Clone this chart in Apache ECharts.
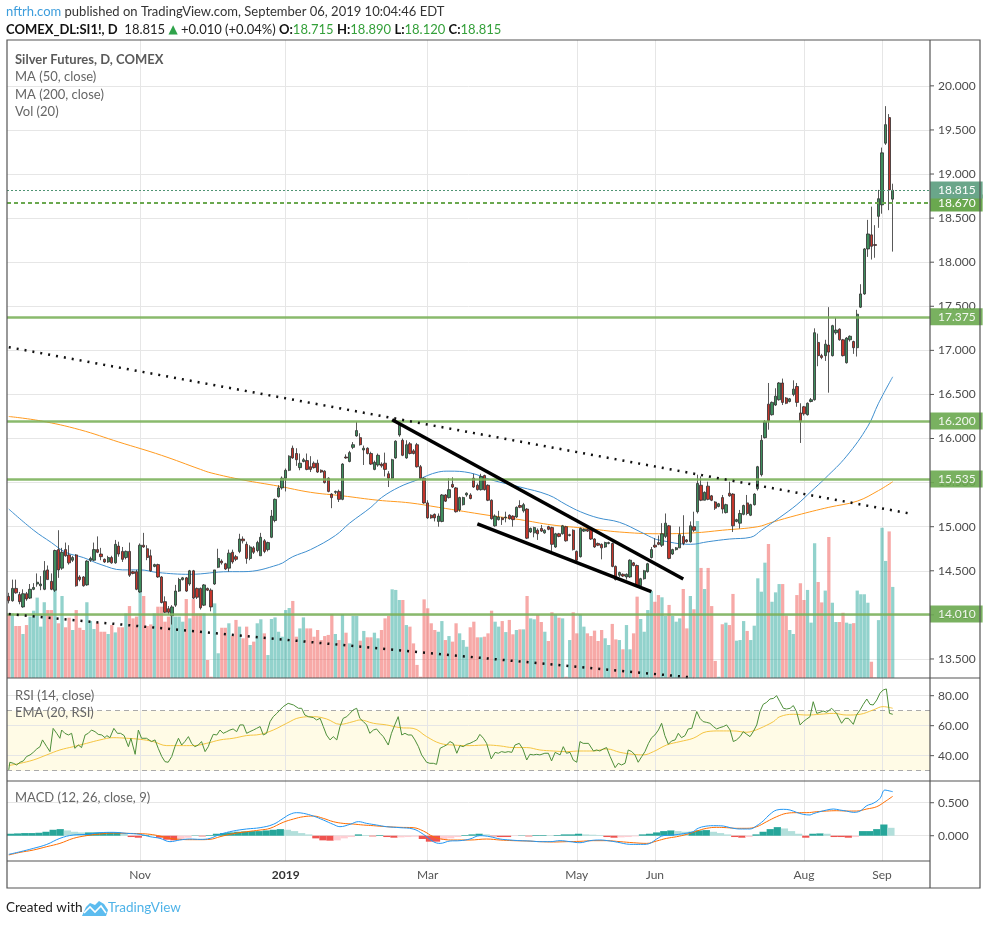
<!DOCTYPE html>
<html>
<head>
<meta charset="utf-8">
<script src="https://cdn.jsdelivr.net/npm/echarts/dist/echarts.min.js"></script>
<style>
  html, body { margin: 0; padding: 0; background: #fff; }
  #chart { width: 986px; height: 926px; }
</style>
</head>
<body>
<div id="chart"></div>
<script>
// Silver futures daily, Sep 2018 - Sep 6 2019
const FONT = 'Lato, "Noto Sans", sans-serif';
const SLOTS = 260; // 250 daily bars + empty room on the right

// candles: [open, close, low, high]
const candlesSepDec = [
  [14.21,14.16,14.13,14.25],[14.16,14.30,14.15,14.40],[14.30,14.25,14.24,14.40],[14.23,14.15,14.12,14.26],
  [14.09,14.24,14.08,14.29],[14.24,14.18,14.16,14.26],[14.19,14.29,14.18,14.35],[14.29,14.31,14.28,14.36],
  [14.35,14.37,14.32,14.47],[14.33,14.35,14.28,14.44],[14.29,14.50,14.28,14.61],[14.51,14.40,14.40,14.56],
  [14.38,14.29,14.28,14.47],[14.28,14.73,14.26,14.74],[14.74,14.51,14.42,14.96],[14.53,14.71,14.51,14.76],
  [14.74,14.67,14.66,14.82],[14.68,14.59,14.57,14.79],[14.62,14.65,14.60,14.67],[14.68,14.33,14.32,14.69],
  [14.43,14.40,14.38,14.45],[14.43,14.33,14.32,14.44],[14.34,14.61,14.33,14.62],[14.62,14.64,14.60,14.66],
  [14.62,14.74,14.61,14.82],[14.74,14.71,14.70,14.89],[14.69,14.66,14.62,14.76],[14.63,14.60,14.59,14.64],
  [14.60,14.65,14.59,14.67],[14.65,14.59,14.58,14.67],[14.59,14.80,14.58,14.85],[14.78,14.69,14.66,14.83],
  [14.72,14.63,14.60,14.77],[14.65,14.72,14.63,14.73],[14.72,14.45,14.43,14.82],[14.49,14.47,14.46,14.50],
  [14.49,14.29,14.28,14.51],[14.26,14.79,14.25,14.81],[14.79,14.77,14.76,14.93],[14.75,14.65,14.62,14.79],
  [14.67,14.50,14.49,14.74],[14.55,14.57,14.54,14.58],[14.57,14.43,14.42,14.58],[14.43,14.14,14.13,14.44],
  [14.15,14.03,14.02,14.21],[14.07,14.03,14.00,14.10],[13.99,14.09,13.89,14.11],[14.11,14.27,14.09,14.34],
  [14.27,14.40,14.26,14.42],[14.40,14.42,14.39,14.43],[14.42,14.27,14.26,14.43],[14.35,14.50,14.33,14.51],
  [14.50,14.19,14.18,14.51],[14.30,14.20,14.18,14.31],[14.30,14.08,14.06,14.31],[14.11,14.34,14.10,14.35],
  [14.30,14.28,14.27,14.31],[14.28,14.09,14.04,14.30],[14.35,14.51,14.34,14.51],[14.54,14.64,14.53,14.75],
  [14.61,14.59,14.57,14.63],[14.58,14.52,14.51,14.59],[14.53,14.70,14.49,14.74]
];
const candlesDecMar = [
  [14.71,14.60,14.58,14.74],[14.66,14.63,14.61,14.68],[14.72,14.86,14.70,14.92],[14.86,14.84,14.81,14.89],
  [14.80,14.64,14.58,14.83],[14.64,14.77,14.62,14.79],[14.76,14.71,14.69,14.78],[14.73,14.82,14.71,14.84],
  [14.67,14.88,14.67,14.93],[14.84,14.72,14.70,14.86],[14.74,14.82,14.72,14.83],[14.88,15.12,14.87,15.19],
  [15.07,15.31,15.05,15.32],[15.34,15.44,15.33,15.47],[15.44,15.55,15.42,15.57],[15.55,15.64,15.40,15.66],
  [15.64,15.80,15.63,15.81],[15.89,15.78,15.77,15.92],[15.83,15.76,15.69,15.89],[15.67,15.72,15.64,15.83],
  [15.74,15.76,15.73,15.78],[15.75,15.65,15.64,15.83],[15.68,15.65,15.62,15.80],[15.72,15.67,15.66,15.74],
  [15.72,15.62,15.61,15.76],[15.64,15.62,15.61,15.65],[15.63,15.50,15.49,15.64],[15.55,15.40,15.39,15.56],
  [15.37,15.33,15.21,15.38],[15.39,15.40,15.37,15.41],[15.40,15.31,15.28,15.42],[15.31,15.71,15.30,15.72],
  [15.79,15.78,15.77,15.82],[15.74,15.84,15.73,15.86],[15.90,15.93,15.88,15.96],[16.03,16.09,16.02,16.19],
  [16.01,15.93,15.92,16.06],[15.87,15.89,15.70,15.92],[15.89,15.83,15.82,15.90],[15.83,15.71,15.70,15.85],
  [15.65,15.73,15.64,15.75],[15.70,15.81,15.68,15.83],[15.71,15.69,15.67,15.73],[15.72,15.65,15.57,15.84],
  [15.60,15.55,15.45,15.63],[15.55,15.76,15.54,15.77],[15.78,15.97,15.77,15.98],[16.04,16.16,16.02,16.19],
  [15.98,15.81,15.80,16.00],[15.78,15.93,15.77,15.98],[15.94,15.83,15.82,15.96],[15.86,15.83,15.82,15.88],
  [15.93,15.68,15.67,15.95],[15.68,15.55,15.53,15.70],[15.55,15.27,15.26,15.56],[15.27,15.10,15.09,15.30],
  [15.13,15.10,15.09,15.14],[15.14,15.10,15.06,15.15],[15.06,15.12,15.00,15.15]
];
const candlesMarJun = [
  [15.06,15.36,15.05,15.37],[15.36,15.29,15.28,15.37],[15.33,15.42,15.32,15.55],[15.48,15.45,15.44,15.56],
  [15.44,15.17,15.16,15.45],[15.19,15.33,15.17,15.34],[15.25,15.33,15.24,15.34],[15.36,15.38,15.34,15.39],
  [15.36,15.32,15.31,15.38],[15.55,15.45,15.44,15.60],[15.47,15.42,15.41,15.49],[15.42,15.57,15.41,15.60],
  [15.58,15.42,15.41,15.59],[15.47,15.30,15.29,15.48],[15.30,15.09,15.08,15.31],[15.01,15.12,15.00,15.14],
  [15.08,15.11,15.07,15.18],[15.10,15.08,15.02,15.11],[15.10,15.11,15.05,15.17],[15.13,15.09,15.08,15.14],
  [15.12,15.08,15.00,15.13],[15.11,15.22,15.10,15.23],[15.24,15.22,15.21,15.30],[15.18,15.25,15.16,15.27],
  [15.20,14.87,14.86,15.21],[14.94,14.98,14.93,14.99],[14.93,14.99,14.88,15.00],[14.96,14.92,14.85,14.98],
  [14.98,14.95,14.94,15.02],[14.93,14.96,14.92,14.97],[15.00,14.97,14.96,15.01],[14.99,14.80,14.72,15.00],
  [14.77,14.92,14.76,14.93],[14.92,14.89,14.88,14.93],[14.92,15.01,14.91,15.02],[15.00,14.84,14.83,15.01],
  [14.90,14.91,14.89,14.92],[14.96,14.74,14.73,14.97],[14.72,14.62,14.61,14.73],[14.66,14.98,14.65,14.99],
  [14.95,14.97,14.94,14.98],[14.97,14.95,14.94,14.98],[14.97,14.86,14.85,14.98],[14.86,14.77,14.76,14.87],
  [14.81,14.79,14.78,14.82],[14.80,14.76,14.63,14.81],[14.77,14.82,14.76,14.83],[14.81,14.82,14.80,14.83],
  [14.81,14.55,14.54,14.82],[14.55,14.40,14.39,14.56],[14.45,14.48,14.43,14.49],[14.46,14.44,14.43,14.47],
  [14.43,14.46,14.40,14.47],[14.43,14.62,14.42,14.63],[14.59,14.56,14.55,14.60],[14.56,14.33,14.32,14.57],
  [14.33,14.41,14.32,14.42],[14.41,14.50,14.40,14.51],[14.49,14.58,14.48,14.59],[14.65,14.74,14.64,14.77],
  [14.79,14.77,14.76,14.87],[14.82,14.80,14.79,14.90]
];
const candlesJunAug = [
  [14.79,14.92,14.77,15.04],[14.89,15.04,14.87,15.15],[15.01,14.64,14.63,15.02],[14.69,14.74,14.68,14.75],
  [14.74,14.76,14.73,14.77],[14.76,14.91,14.76,15.00],[14.89,14.81,14.79,15.13],[14.85,14.83,14.82,14.86],
  [14.83,15.01,14.82,15.06],[15.00,14.96,14.94,15.17],[15.17,15.49,15.15,15.59],[15.47,15.30,15.29,15.57],
  [15.30,15.39,15.30,15.40],[15.46,15.31,15.30,15.51],[15.35,15.30,15.29,15.36],[15.28,15.21,15.19,15.29],
  [15.23,15.26,15.22,15.27],[15.33,15.20,15.15,15.36],[15.16,15.25,15.15,15.26],[15.38,15.35,15.34,15.51],
  [15.37,15.01,14.94,15.38],[15.06,15.08,15.05,15.09],[15.04,15.15,14.98,15.19],[15.14,15.24,15.13,15.25],
  [15.27,15.15,15.13,15.36],[15.13,15.25,15.12,15.26],[15.25,15.37,15.24,15.38],[15.43,15.68,15.41,15.69],
  [15.59,15.98,15.57,16.04],[16.01,16.19,16.00,16.21],[16.39,16.20,16.10,16.63],[16.27,16.41,16.26,16.42],
  [16.38,16.48,16.37,16.57],[16.44,16.63,16.43,16.64],[16.63,16.41,16.38,16.68],[16.46,16.40,16.39,16.47],
  [16.42,16.45,16.41,16.46],[16.50,16.56,16.48,16.66],[16.59,16.41,16.36,16.63],[16.29,16.19,15.95,16.40],
  [16.36,16.28,16.26,16.37],[16.27,16.40,16.26,16.41]
];
const candlesAugSep = [
  [16.42,16.44,16.41,16.46],[16.44,17.20,16.43,17.25],[17.09,16.94,16.82,17.19],[16.94,16.92,16.90,16.96],
  [16.94,17.07,16.88,17.12],[17.06,16.98,16.52,17.49],[16.94,17.28,16.93,17.29],[17.20,17.23,17.18,17.37],
  [17.24,17.12,17.11,17.25],[17.12,16.94,16.93,17.13],[16.86,17.14,16.85,17.15],[17.12,17.16,17.10,17.17],
  [17.10,17.03,16.96,17.11],[17.03,17.41,16.93,17.46],[17.49,17.64,17.48,17.75],[17.64,18.15,17.63,18.16],
  [18.15,18.32,18.06,18.48],[18.31,18.18,18.03,18.63],[18.20,18.19,18.05,18.42],[18.52,18.72,18.39,18.82],
  [18.65,19.24,18.55,19.30],[19.35,19.56,19.33,19.77],[19.64,18.82,18.59,19.68],[18.715,18.815,18.12,18.89]
];
const candles = [].concat(candlesSepDec, candlesDecMar, candlesMarJun, candlesJunAug, candlesAugSep);

// volume, thousand contracts
const volSepDec = [39.5,40.5,32.6,32.6,27.6,33.2,38.5,42.2,50.4,32.2,47.5,42.6,42.6,56.2,34.3,51.4,31.8,37.8,30.1,42.6,
  31.5,30.1,47.5,35.7,30.7,34.7,29.0,29.0,27.6,33.2,28.6,31.8,31.8,40.5,45.1,37.4,38.5,54.1,51.4,32.6,33.6,40.5,44.7,
  44.7,35.3,38.5,38.5,38.5,38.5,35.3,49.5,37.4,49.5,40.5,40.5,40.5,11.3,0.8,46.8,15.5,31.5,31.5,34.3];
const volDecMar = [26.3,36.4,32.2,24.9,32.2,20.7,22.8,34.3,36.8,28.0,14.4,37.0,38.0,29.0,25.9,42.6,43.9,48.3,25.9,31.1,
  38.0,31.1,31.1,25.9,30.1,23.8,26.3,27.0,40.1,27.6,23.8,39.9,28.4,21.7,38.9,38.9,23.4,29.5,25.5,25.5,28.4,24.9,30.1,
  37.4,38.9,55.6,55.2,48.9,48.9,33.2,32.2,21.7,8.2,0.8,49.3,43.7,34.3,30.1,29.0];
const volMarJun = [35.7,23.8,26.3,22.8,34.3,28.0,23.8,19.6,31.8,35.3,25.5,25.5,25.9,28.0,42.2,35.3,32.2,35.7,28.8,36.4,
  27.4,30.1,30.5,30.5,51.4,37.4,36.8,39.5,35.1,29.0,23.2,41.2,39.9,37.8,37.4,0.8,23.8,41.2,28.0,39.9,32.2,28.0,26.3,
  29.7,23.2,30.1,24.9,20.7,33.9,24.2,23.8,18.0,33.2,18.0,28.0,51.0,37.0,29.0,42.6,54.5,47.8,52.0];
const volJunAug = [50.6,38.9,45.8,38.9,35.3,37.4,55.8,31.1,51.4,43.1,98.4,69.0,55.8,69.0,45.1,10.7,0.8,33.7,34.7,33.2,
  52.7,23.4,23.8,35.7,29.5,23.8,32.8,62.5,54.1,72.3,84.0,47.8,53.7,58.9,58.9,39.1,30.1,27.6,52.0,59.4,48.9,55.2];
const volAugSep = [34.7,84.5,60.2,47.4,54.8,88.4,47.2,35.1,35.1,40.9,34.7,34.0,34.4,54.8,52.5,52.5,47.2,10.2,0.4,36.3,
  94.2,73.4,91.9,57.1];
const volume = [].concat(volSepDec, volDecMar, volMarJun, volJunAug, volAugSep);

// moving averages [bar, value]
const ma50 = [[0,15.20],[7,14.96],[12,14.82],[16,14.71],[21,14.65],[26,14.57],[32,14.51],[37,14.51],[42,14.48],
  [51,14.46],[62,14.49],[66,14.49],[76,14.57],[80,14.66],[85,14.74],[92,14.90],[96,15.04],[102,15.22],[105,15.33],
  [110,15.45],[115,15.53],[121,15.62],[124,15.63],[130,15.61],[136,15.53],[144,15.45],[152,15.36],[157,15.25],
  [161,15.17],[166,15.10],[172,15.05],[178,14.94],[181,14.88],[183,14.85],[192,14.80],[197,14.83],[203,14.86],
  [209,14.88],[212,14.96],[217,15.10],[222,15.25],[226,15.40],[230,15.55],[236,15.80],[242,16.14],[245,16.40],[249,16.70]];
const ma200 = [[0,16.25],[9,16.20],[20,16.10],[31,15.96],[43,15.81],[54,15.65],[57,15.61],[66,15.53],[76,15.46],
  [85,15.39],[94,15.35],[104,15.30],[113,15.27],[121,15.22],[135,15.13],[144,15.08],[153,15.02],[163,14.98],
  [172,14.94],[183,14.92],[193,14.93],[201,14.96],[211,15.00],[215,15.05],[222,15.13],[231,15.22],[239,15.29],
  [245,15.41],[249,15.51]];

// RSI(14) and its EMA(20) [bar, value]
const rsi = [[0,30.5],[0.3,35.6],[1.3,34.9],[2.2,33.8],[3.2,35.6],[4.1,36.5],[5.0,39.4],[6.0,40.5],[6.9,42.2],[7.9,44.5],
  [8.8,46.0],[9.5,50.5],[10.7,46.0],[11.6,42.7],[12.5,58.2],[13.5,54.9],[14.4,51.6],[14.9,57.1],[15.8,54.9],[16.8,53.8],
  [17.7,54.9],[18.6,44.9],[19.6,47.1],[20.5,45.4],[21.5,53.8],[22.4,54.9],[23.3,57.1],[24.3,56.0],[25.2,54.2],[26.2,53.8],
  [27.1,52.0],[27.6,53.4],[28.5,52.0],[29.6,58.2],[30.6,54.9],[31.5,54.9],[32.5,53.4],[33.7,46.0],[34.4,51.6],[35.6,40.9],
  [36.5,57.1],[37.4,51.6],[38.8,51.6],[40.2,49.4],[41.2,50.5],[42.1,44.9],[43.1,39.4],[44.0,36.0],[44.9,35.6],[45.9,39.4],
  [46.8,46.0],[47.8,51.6],[48.7,47.1],[49.6,49.4],[50.6,52.7],[51.5,48.2],[52.4,46.0],[53.4,47.1],[54.3,49.4],[55.3,42.7],
  [56.2,46.0],[56.7,49.4],[57.6,54.2],[58.6,53.8],[59.5,57.1],[60.4,54.9],[61.4,56.0],[62.3,57.1],[63.2,57.8],[64.2,56.0],
  [65.1,60.5],[66.1,60.5],[67.0,54.9],[67.9,56.0],[68.9,57.1],[69.8,58.2],[70.8,59.4],[71.7,53.8],[72.6,54.9],[73.6,62.7],
  [74.5,66.0],[75.5,68.2],[76.4,70.5],[77.3,72.7],[78.7,74.9],[80.2,73.8],[81.6,71.6],[82.5,71.6],[83.4,67.1],[84.4,66.0],
  [85.8,65.4],[86.7,63.8],[87.7,64.9],[88.6,59.4],[89.5,53.8],[90.5,50.5],[91.4,52.7],[92.4,50.5],[93.3,59.4],[94.2,64.9],
  [95.2,66.0],[96.1,68.2],[97.0,70.5],[98.0,71.6],[98.9,64.9],[99.9,62.7],[100.8,60.5],[101.7,54.9],[102.7,57.1],[103.6,57.8],
  [104.6,54.9],[105.5,52.7],[106.9,47.1],[107.8,54.9],[108.8,60.9],[109.7,66.0],[110.7,53.8],[111.6,54.9],[112.5,53.8],
  [113.5,53.8],[114.4,50.5],[115.4,46.0],[116.3,40.5],[117.7,35.6],[118.6,34.9],[119.6,34.9],[120.5,34.2],[121.5,44.9],
  [122.4,46.0],[123.3,47.1],[124.3,49.4],[125.2,48.2],[126.2,41.6],[127.1,46.7],[128.0,46.0],[129.0,47.6],[129.9,48.2],
  [130.9,49.4],[131.8,50.5],[132.7,54.2],[133.7,51.6],[134.6,48.2],[135.9,37.8],[137.0,42.2],[137.9,41.6],[138.8,42.7],
  [139.8,42.2],[140.7,42.7],[141.7,42.2],[142.6,47.1],[143.8,48.2],[144.8,44.5],[145.9,37.1],[146.8,40.9],[147.8,40.5],
  [148.7,40.9],[149.6,40.5],[151.0,41.6],[152.0,41.6],[152.9,36.5],[153.9,42.2],[155.3,40.5],[156.2,46.0],[157.1,41.6],
  [158.1,42.2],[159.0,37.1],[160.0,35.6],[160.9,49.4],[161.8,48.2],[163.3,48.2],[164.7,43.1],[165.6,43.8],[166.5,43.1],
  [167.5,44.5],[168.4,45.4],[169.4,39.4],[170.8,32.0],[171.7,34.9],[172.6,33.8],[173.6,34.9],[174.5,43.8],[175.5,42.7],
  [176.4,40.5],[177.3,35.6],[178.3,39.4],[179.2,42.7],[180.2,48.2],[181.1,52.0],[182.0,53.8],[183.0,57.1],[183.9,61.6],
  [184.8,53.4],[185.8,47.6],[186.7,49.8],[187.7,50.5],[188.6,54.9],[189.5,52.0],[190.5,53.4],[191.4,57.8],[192.4,58.2],
  [193.8,69.4],[194.7,64.9],[195.6,62.7],[196.6,62.2],[197.5,61.6],[198.5,59.4],[199.4,57.8],[200.3,58.7],[201.3,59.4],
  [202.2,60.5],[203.2,57.1],[204.1,49.4],[205.0,50.5],[206.0,52.7],[206.9,56.0],[207.9,54.2],[208.8,52.7],[209.7,56.0],
  [210.7,60.5],[211.6,69.4],[212.5,74.2],[213.5,75.6],[214.4,77.8],[215.4,78.2],[216.3,80.0],[217.2,76.0],[218.2,71.6],
  [219.1,71.1],[220.1,71.6],[221.0,73.4],[221.9,69.4],[222.9,60.5],[223.8,62.7],[224.8,64.5],[225.7,66.0],[226.6,76.0],
  [227.6,68.2],[228.5,68.9],[229.4,69.8],[230.4,68.9],[231.8,71.6],[233.2,68.2],[234.6,61.6],[235.6,64.9],[236.5,64.9],
  [237.9,60.9],[238.8,67.1],[239.8,70.5],[240.7,74.2],[241.7,77.8],[242.6,74.2],[243.5,73.8],[244.5,77.1],[245.4,81.6],
  [246.3,83.8],[247.2,84.5],[248.1,68.2],[249,67.6]];
const rsiEma = [[0,33.4],[3.2,34.9],[6.9,37.1],[10.7,40.5],[14.4,43.8],[18.2,46.0],[21.9,48.2],[25.7,50.5],[29.4,52.0],
  [33.2,51.6],[37.0,50.9],[40.7,49.4],[44.5,46.7],[48.2,46.7],[52.0,46.7],[55.7,48.2],[59.5,50.5],[63.2,51.6],[67.0,53.4],
  [70.8,54.2],[74.5,57.1],[78.3,61.6],[82.0,65.4],[85.8,66.0],[89.5,64.5],[93.3,60.9],[97.0,62.7],[98.9,63.8],[102.7,61.6],
  [106.4,60.5],[110.2,58.7],[113.9,58.2],[117.7,52.7],[121.5,48.2],[125.2,47.1],[129.9,46.7],[134.6,47.1],[138.4,46.5],
  [142.1,45.4],[145.9,45.4],[149.6,43.8],[153.4,43.1],[157.1,42.7],[160.9,43.1],[164.7,43.1],[168.4,44.5],[172.2,42.2],
  [175.9,40.9],[178.7,40.5],[181.6,42.7],[185.3,47.1],[189.1,49.4],[192.8,51.6],[196.6,56.0],[200.3,56.5],[204.1,56.5],
  [207.9,55.6],[209.7,56.5],[211.6,58.2],[215.4,62.7],[217.2,66.0],[221.0,67.6],[224.8,67.1],[228.5,67.6],[232.3,68.2],
  [236.0,67.1],[239.8,67.6],[243.5,70.5],[246.3,72.7],[249,71.6]];

// MACD(12,26,9) [bar, value]
const macdLine = [[0,-0.282],[3.2,-0.243],[6.9,-0.192],[10.7,-0.132],[14.4,-0.040],[18.2,0.011],[21.9,0.021],[25.7,0.046],
  [29.4,0.051],[33.2,0.036],[37.0,0.021],[39.8,-0.015],[42.6,-0.040],[45.4,-0.090],[48.2,-0.065],[51.0,-0.050],[53.9,-0.055],
  [56.7,-0.040],[59.5,0.021],[63.2,0.071],[67.0,0.102],[70.8,0.122],[74.5,0.172],[77.3,0.263],[79.2,0.324],[81.1,0.349],
  [83.0,0.339],[85.8,0.298],[88.6,0.238],[91.4,0.172],[93.3,0.137],[96.1,0.172],[98.5,0.213],[100.8,0.187],[103.6,0.162],
  [106.4,0.137],[110.2,0.122],[113.9,0.102],[116.8,0.021],[119.6,-0.090],[121.5,-0.116],[124.3,-0.080],[127.1,-0.075],
  [129.9,-0.050],[132.7,0.001],[135.6,-0.015],[138.4,-0.050],[141.2,-0.065],[144.0,-0.075],[146.8,-0.080],[149.6,-0.090],
  [152.5,-0.090],[155.3,-0.075],[158.1,-0.090],[160.9,-0.106],[163.7,-0.075],[166.5,-0.065],[169.4,-0.080],[172.2,-0.106],
  [174.0,-0.126],[175.9,-0.131],[178.7,-0.131],[180.6,-0.116],[182.5,-0.050],[184.4,0.001],[187.2,0.011],[190.0,0.031],
  [192.8,0.061],[193.8,0.102],[195.6,0.137],[198.5,0.152],[201.3,0.147],[203.2,0.122],[206.0,0.102],[208.8,0.102],
  [210.7,0.152],[212.5,0.223],[214.4,0.324],[216.3,0.389],[218.2,0.400],[220.1,0.389],[221.9,0.354],[223.8,0.324],
  [225.7,0.314],[226.6,0.334],[228.5,0.364],[230.4,0.389],[232.3,0.405],[234.1,0.389],[236.0,0.374],[237.9,0.354],
  [239.8,0.374],[241.7,0.455],[243.5,0.491],[245.4,0.566],[246.8,0.692],[248.2,0.677],[249,0.667]];
const macdSignal = [[0,-0.292],[3.2,-0.252],[6.9,-0.217],[10.7,-0.166],[14.4,-0.116],[18.2,-0.040],[21.9,0.001],
  [25.7,0.026],[29.4,0.041],[33.2,0.036],[37.0,0.031],[39.8,0.021],[42.6,-0.005],[45.4,-0.040],[48.2,-0.055],[51.0,-0.060],
  [53.9,-0.060],[56.7,-0.055],[59.5,-0.015],[63.2,0.031],[67.0,0.061],[70.8,0.086],[73.6,0.112],[77.3,0.203],[80.2,0.253],
  [83.0,0.288],[85.8,0.298],[88.6,0.263],[91.4,0.213],[94.2,0.187],[97.0,0.177],[99.9,0.162],[102.7,0.152],[106.4,0.137],
  [110.2,0.127],[113.9,0.122],[116.8,0.071],[119.6,-0.015],[122.4,-0.055],[125.2,-0.065],[129.9,-0.065],[134.6,-0.050],
  [138.4,-0.065],[142.1,-0.075],[145.9,-0.080],[149.6,-0.090],[153.4,-0.095],[157.1,-0.090],[160.9,-0.085],[164.7,-0.075],
  [168.4,-0.075],[172.2,-0.090],[175.9,-0.106],[179.7,-0.116],[182.5,-0.080],[185.3,-0.040],[188.1,-0.015],[191.0,0.021],
  [193.8,0.071],[196.6,0.112],[199.4,0.127],[202.2,0.122],[205.0,0.112],[207.9,0.112],[210.7,0.137],[213.5,0.213],
  [216.3,0.288],[219.1,0.339],[221.9,0.349],[224.8,0.349],[227.6,0.364],[230.4,0.374],[233.2,0.379],[236.0,0.374],
  [238.8,0.374],[241.7,0.405],[244.5,0.440],[246.8,0.516],[249,0.597]];
// histogram, one value per pair of bars [first bar, value]
const macdHist = [[0,0.03],[2,0.035],[4,0.04],[6,0.04],[8,0.045],[10,0.06],[12,0.09],[14,0.10],[16,0.08],[18,0.06],
  [20,0.05],[22,0.05],[24,0.05],[26,0.05],[28,0.05],[30,0.05],[32,0.03],[34,-0.02],[36,-0.03],[38,0.01],[40,0.005],
  [42,-0.03],[44,-0.06],[46,-0.07],[48,-0.05],[50,-0.03],[52,0.005],[54,-0.01],[56,0.01],[58,0.03],[60,0.04],[62,0.05],
  [64,0.06],[66,0.065],[68,0.07],[70,0.07],[72,0.08],[74,0.09],[76,0.10],[78,0.09],[80,0.07],[82,0.04],[84,0.02],
  [86,-0.04],[88,-0.07],[90,-0.075],[92,-0.07],[94,-0.04],[96,-0.02],[98,0.02],[100,0.01],[102,-0.01],[104,0.01],
  [106,-0.02],[108,-0.03],[110,-0.025],[112,-0.02],[114,-0.015],[116,-0.05],[118,-0.09],[120,-0.09],[122,-0.065],
  [124,-0.04],[126,-0.02],[128,0.01],[130,0.02],[132,0.03],[134,0.02],[136,-0.01],[138,-0.02],[140,-0.02],[142,-0.005],
  [144,0.005],[146,-0.01],[148,0.01],[150,0.01],[152,0.005],[154,0.01],[156,0.02],[158,0.02],[160,0.03],[162,0.02],
  [164,0.015],[166,0.01],[168,-0.02],[170,-0.03],[172,-0.025],[174,-0.02],[176,-0.01],[178,0.02],[180,0.03],[182,0.05],
  [184,0.07],[186,0.08],[188,0.07],[190,0.06],[192,0.06],[194,0.08],[196,0.085],[198,0.06],[200,0.04],[202,0.02],
  [204,-0.02],[206,-0.03],[208,-0.02],[210,0.02],[212,0.06],[214,0.10],[216,0.13],[218,0.11],[220,0.07],[222,0.03],
  [224,-0.03],[226,0.03],[228,0.035],[230,0.03],[232,-0.02],[234,-0.02],[236,-0.03],[238,-0.02],[240,0.07],[242,0.07],
  [244,0.10],[246,0.17],[248,0.12]];

// axes / ticks
const priceTicks = [13.5, 14, 14.5, 15, 15.5, 16, 16.5, 17, 17.5, 18, 18.5, 19, 19.5, 20];
const rsiTicks = [40, 60, 80];
const macdTicks = [0, 0.5];
const dateTickIdx = [37, 78, 118, 160, 182, 224, 246];
const dateTickText = ['Nov', '2019', 'Mar', 'May', 'Jun', 'Aug', 'Sep'];

// drawn support / resistance levels and trendlines [bar, price]
const levelPrices = [14.010, 15.535, 16.200, 17.375];
const dashedLevel = 18.670;
const lastPrice = 18.815;
const dottedTrends = [ [[0, 17.036], [254, 15.148]], [[0, 14.009], [193, 13.288]] ];
const solidTrends = [ [[108, 16.213], [190, 14.407]], [[132, 15.031], [181, 14.263]] ];

// ---------- build ----------
const slots = Array.from({ length: SLOTS }, (_, k) => 'd' + k);
const upBody = '#3e8d5d', downBody = '#c5352b', edge = '#2e2e2e';
const upVol = 'rgba(38,166,154,0.5)', downVol = 'rgba(239,83,80,0.5)';
const gridGray = '#e6e6e6', tickText = '#4b4b4b', frameColor = '#555';

const volData = volume.map((v, k) => ({
  value: v,
  itemStyle: { color: candles[k][1] >= candles[k][0] ? upVol : downVol }
}));

const histData = macdHist.map(([b, v], k) => {
  const prev = k > 0 ? macdHist[k - 1][1] : 0;
  let c;
  if (v >= 0) c = v >= prev ? '#26a69a' : '#b2dfdb';
  else c = v <= prev ? '#ef5350' : '#ffcdd2';
  return { value: [b + 0.5, v], itemStyle: { color: c } };
});

const vLines = dateTickIdx.map(i => ({ xAxis: i, label: { show: false } }));
const baseML = { silent: true, symbol: ['none', 'none'], animation: false };

// horizontal grid lines + right-hand scale (small tick mark then the value)
function gridLines(ticks, digits) {
  return Object.assign({}, baseML, {
    z: 1,
    lineStyle: { color: gridGray, width: 1, type: 'solid' },
    label: {
      show: true, position: 'end', distance: 0, color: tickText, fontSize: 12, fontFamily: FONT,
      rich: {
        t: { width: 4, height: 1, backgroundColor: '#555', verticalAlign: 'middle' },
        v: { padding: [0, 0, 0, 4], color: tickText, fontSize: 12, fontFamily: FONT, verticalAlign: 'middle' }
      }
    },
    data: ticks.map(v => ({ yAxis: v, label: { formatter: '{t|}{v|' + v.toFixed(digits) + '}' } })).concat(vLines)
  });
}

const levelLabel = (bg) => ({
  show: true, position: 'end', distance: 0, color: '#fff', fontSize: 12, fontFamily: FONT,
  backgroundColor: bg, padding: [3, 7, 2, 8]
});

const option = {
  animation: false,
  textStyle: { fontFamily: FONT },
  grid: [
    { left: 7, top: 40, width: 923, height: 638 },
    { left: 7, top: 678, width: 923, height: 103 },
    { left: 7, top: 781, width: 923, height: 80 }
  ],
  xAxis: [
    { type: 'category', gridIndex: 0, data: slots, boundaryGap: true, show: false },
    { type: 'value', gridIndex: 1, min: -0.5, max: SLOTS - 0.5, show: false },
    { type: 'value', gridIndex: 2, min: -0.5, max: SLOTS - 0.5, show: false },
    {
      type: 'category', gridIndex: 2, data: slots, boundaryGap: true, position: 'bottom',
      axisLine: { show: false }, axisTick: { show: false }, splitLine: { show: false },
      axisLabel: {
        interval: (index) => dateTickIdx.indexOf(index) >= 0,
        formatter: (value, index) => {
          const t = dateTickText[dateTickIdx.indexOf(index)] || '';
          return /^\d{4}$/.test(t) ? '{yr|' + t + '}' : t;
        },
        color: '#555', fontSize: 12, margin: 8, fontFamily: FONT,
        rich: { yr: { fontWeight: 'bold', color: '#333', fontSize: 12, fontFamily: FONT } }
      }
    }
  ],
  yAxis: [
    { type: 'value', gridIndex: 0, min: 13.284, max: 20.52, show: false },
    { type: 'value', gridIndex: 0, min: 0, max: 400, show: false },
    { type: 'value', gridIndex: 1, min: 23.1, max: 91.8, show: false },
    { type: 'value', gridIndex: 2, min: -0.383, max: 0.829, show: false }
  ],
  series: [
    // main pane grid + price scale
    { name: 'grid-main', type: 'line', xAxisIndex: 0, yAxisIndex: 0, data: [], markLine: gridLines(priceTicks, 3) },
    {
      name: 'Vol', type: 'bar', xAxisIndex: 0, yAxisIndex: 1, data: volData,
      barCategoryGap: '8%', z: 2, silent: true
    },
    {
      name: 'MA200', type: 'line', xAxisIndex: 0, yAxisIndex: 0, data: ma200, smooth: 0.4,
      showSymbol: false, lineStyle: { color: '#ff9a1f', width: 1 }, z: 3, silent: true
    },
    {
      name: 'MA50', type: 'line', xAxisIndex: 0, yAxisIndex: 0, data: ma50, smooth: 0.4,
      showSymbol: false, lineStyle: { color: '#3f8fcf', width: 1 }, z: 3, silent: true
    },
    {
      name: 'Silver', type: 'candlestick', xAxisIndex: 0, yAxisIndex: 0, data: candles, barWidth: 2.8, z: 4,
      silent: true,
      itemStyle: { color: upBody, color0: downBody, borderColor: edge, borderColor0: edge, borderWidth: 0.8 }
    },
    // horizontal levels with price tags
    {
      name: 'levels', type: 'line', xAxisIndex: 0, yAxisIndex: 0, data: [],
      markLine: Object.assign({}, baseML, {
        z: 6,
        lineStyle: { color: '#7cb35c', width: 2.6, type: 'solid', opacity: 0.9 },
        label: levelLabel('#6aa84f'),
        data: levelPrices.map(v => ({ yAxis: v, label: { formatter: v.toFixed(3) } })).concat([
          { yAxis: dashedLevel, lineStyle: { color: '#6aa84f', width: 2, type: [4, 3], opacity: 1 },
            label: { formatter: dashedLevel.toFixed(3) } },
          { yAxis: lastPrice, lineStyle: { color: '#4f9474', width: 1, type: [2, 2], opacity: 1 },
            label: { formatter: lastPrice.toFixed(3), backgroundColor: '#6aa68a' } }
        ])
      })
    },
    {
      name: 'dotted-trends', type: 'line', xAxisIndex: 0, yAxisIndex: 0, data: [],
      markLine: Object.assign({}, baseML, {
        z: 7, label: { show: false },
        lineStyle: { color: '#111', width: 2.5, type: [2, 6] },
        data: dottedTrends.map(([a, b]) => [{ coord: a }, { coord: b }])
      })
    },
    {
      name: 'solid-trends', type: 'line', xAxisIndex: 0, yAxisIndex: 0, data: [],
      markLine: Object.assign({}, baseML, {
        z: 7, label: { show: false },
        lineStyle: { color: '#000', width: 3.5, type: 'solid' },
        data: solidTrends.map(([a, b]) => [{ coord: a }, { coord: b }])
      })
    },

    // RSI pane
    {
      name: 'rsi-band', type: 'line', xAxisIndex: 1, yAxisIndex: 2, data: [],
      markArea: { silent: true, z: 0, itemStyle: { color: '#fffbe6' }, data: [[{ yAxis: 30 }, { yAxis: 70 }]] },
      markLine: Object.assign({}, baseML, {
        z: 2, label: { show: false },
        lineStyle: { color: '#aaaaaa', width: 1, type: [5, 4] },
        data: [{ yAxis: 70 }, { yAxis: 30 }]
      })
    },
    { name: 'grid-rsi', type: 'line', xAxisIndex: 1, yAxisIndex: 2, data: [], markLine: gridLines(rsiTicks, 2) },
    {
      name: 'EMA', type: 'line', xAxisIndex: 1, yAxisIndex: 2, data: rsiEma, smooth: 0.4, showSymbol: false,
      lineStyle: { color: '#f5c542', width: 1 }, z: 3, silent: true
    },
    {
      name: 'RSI', type: 'line', xAxisIndex: 1, yAxisIndex: 2, data: rsi, showSymbol: false,
      lineStyle: { color: '#4e8f3a', width: 1 }, z: 4, silent: true
    },

    // MACD pane
    { name: 'grid-macd', type: 'line', xAxisIndex: 2, yAxisIndex: 3, data: [], markLine: gridLines(macdTicks, 3) },
    {
      name: 'Histogram', type: 'bar', xAxisIndex: 2, yAxisIndex: 3, data: histData, barWidth: 7.2, z: 2, silent: true
    },
    {
      name: 'Signal', type: 'line', xAxisIndex: 2, yAxisIndex: 3, data: macdSignal, smooth: 0.4, showSymbol: false,
      lineStyle: { color: '#ff6d00', width: 1 }, z: 3, silent: true
    },
    {
      name: 'MACD', type: 'line', xAxisIndex: 2, yAxisIndex: 3, data: macdLine, smooth: 0.4, showSymbol: false,
      lineStyle: { color: '#2196f3', width: 1 }, z: 4, silent: true
    }
  ],
  graphic: [
    // header
    {
      type: 'text', x: 6, y: 12, silent: true,
      style: {
        text: '{a|nftrh.com} published on TradingView.com, September 06, 2019 10:04:46 EDT',
        font: '13px ' + FONT, fill: '#333', verticalAlign: 'middle',
        rich: { a: { fill: '#3d9ddc', font: '13px ' + FONT } }
      }
    },
    {
      type: 'text', x: 6, y: 30, silent: true,
      style: {
        text: '{b|COMEX_DL:SI1!, D}  18.815 {up|▲} +0.010 (+0.04%) {b|O:}{g|18.715} {b|H:}{g|18.890} {b|L:}{g|18.120} {b|C:}{g|18.815}',
        font: '13px ' + FONT, fill: '#222', verticalAlign: 'middle',
        rich: {
          b: { font: 'bold 13px ' + FONT, fill: '#111' },
          g: { font: '13px ' + FONT, fill: '#34a03a' },
          up: { font: '12px "DejaVu Sans", sans-serif', fill: '#2fa34a' }
        }
      }
    },
    // pane legends
    { type: 'text', x: 15, y: 60, silent: true, z: 50,
      style: { text: 'Silver Futures, D, COMEX', font: 'bold 13px ' + FONT, fill: '#5a5a5a', verticalAlign: 'middle' } },
    { type: 'text', x: 15, y: 77, silent: true, z: 50,
      style: { text: 'MA (50, close)', font: '13px ' + FONT, fill: '#666', verticalAlign: 'middle' } },
    { type: 'text', x: 15, y: 95, silent: true, z: 50,
      style: { text: 'MA (200, close)', font: '13px ' + FONT, fill: '#666', verticalAlign: 'middle' } },
    { type: 'text', x: 15, y: 112, silent: true, z: 50,
      style: { text: 'Vol (20)', font: '13px ' + FONT, fill: '#666', verticalAlign: 'middle' } },
    { type: 'text', x: 15, y: 696, silent: true, z: 50,
      style: { text: 'RSI (14, close)', font: '13px ' + FONT, fill: '#666', verticalAlign: 'middle' } },
    { type: 'text', x: 15, y: 713, silent: true, z: 50,
      style: { text: 'EMA (20, RSI)', font: '13px ' + FONT, fill: '#666', verticalAlign: 'middle' } },
    { type: 'text', x: 15, y: 798, silent: true, z: 50,
      style: { text: 'MACD (12, 26, close, 9)', font: '13px ' + FONT, fill: '#666', verticalAlign: 'middle' } },
    // frame
    { type: 'rect', silent: true, z: 100, shape: { x: 7, y: 40, width: 973, height: 848 },
      style: { fill: 'none', stroke: frameColor, lineWidth: 1.2 } },
    { type: 'line', silent: true, z: 100, shape: { x1: 930, y1: 40, x2: 930, y2: 888 },
      style: { stroke: frameColor, lineWidth: 1.2 } },
    { type: 'line', silent: true, z: 100, shape: { x1: 7, y1: 678, x2: 980, y2: 678 },
      style: { stroke: frameColor, lineWidth: 1.2 } },
    { type: 'line', silent: true, z: 100, shape: { x1: 7, y1: 781, x2: 980, y2: 781 },
      style: { stroke: frameColor, lineWidth: 1.2 } },
    { type: 'line', silent: true, z: 100, shape: { x1: 7, y1: 861, x2: 930, y2: 861 },
      style: { stroke: frameColor, lineWidth: 1.2 } },
    // footer
    { type: 'text', x: 6, y: 908, silent: true,
      style: { text: 'Created with', font: '13.5px ' + FONT, fill: '#222', verticalAlign: 'middle' } },
    { type: 'polygon', silent: true,
      shape: { points: [[82,916],[86,907],[90,903],[95,905],[99,901],[104,904],[108,910],[106,916]] },
      style: { fill: '#5cbcef' } },
    { type: 'polyline', silent: true,
      shape: { points: [[84,913],[90,907],[95,912],[101,906],[106,913]] },
      style: { stroke: '#fff', lineWidth: 1.6, fill: null } },
    { type: 'text', x: 108, y: 908, silent: true,
      style: { text: 'TradingView', font: '13.5px ' + FONT, fill: '#4fb3e8', verticalAlign: 'middle' } }
  ]
};

const chart = echarts.init(document.getElementById('chart'));
chart.setOption(option);
window.addEventListener('resize', () => chart.resize());
</script>
</body>
</html>
